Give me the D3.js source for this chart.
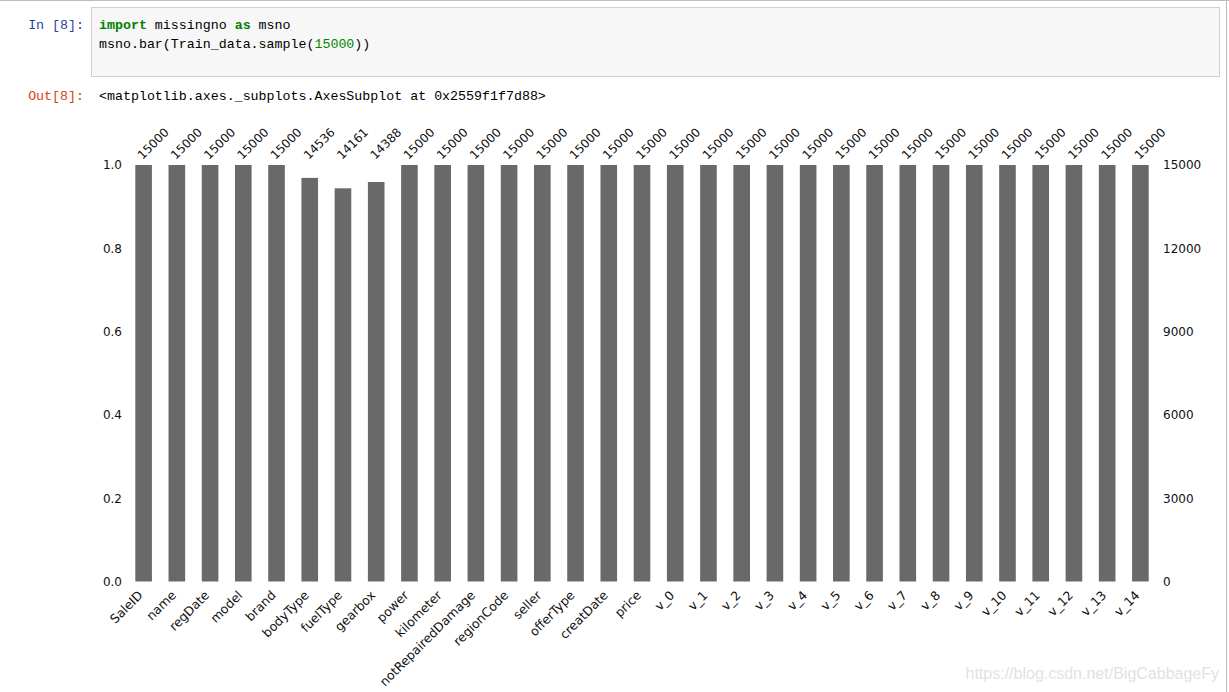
<!DOCTYPE html>
<html>
<head>
<meta charset="utf-8">
<script src="https://cdn.jsdelivr.net/npm/d3@7/dist/d3.min.js"></script>
<style>
  html, body { margin: 0; padding: 0; background: #fff; }
  svg { display: block; }
  .mono { font-family: "Liberation Mono", "DejaVu Sans Mono", monospace; font-size: 13.3px; }
</style>
</head>
<body>
<svg id="page" width="1229" height="692"></svg>
<script>
const columns = ["SaleID","name","regDate","model","brand","bodyType","fuelType","gearbox","power","kilometer","notRepairedDamage","regionCode","seller","offerType","creatDate","price","v_0","v_1","v_2","v_3","v_4","v_5","v_6","v_7","v_8","v_9","v_10","v_11","v_12","v_13","v_14"];
const counts = [15000,15000,15000,15000,15000,14536,14161,14388,15000,15000,15000,15000,15000,15000,15000,15000,15000,15000,15000,15000,15000,15000,15000,15000,15000,15000,15000,15000,15000,15000,15000];
const totalRows = 15000;
const leftTicks = [0, 0.2, 0.4, 0.6, 0.8, 1.0];

const svg = d3.select("#page");

// Notebook chrome
svg.append("rect").attr("x", 0).attr("y", 0).attr("width", 1229).attr("height", 692).attr("fill", "#fff");
svg.append("line").attr("x1", 0).attr("x2", 1229).attr("y1", 0.5).attr("y2", 0.5).attr("stroke", "#bdbdbd");
svg.append("line").attr("x1", 1226.5).attr("x2", 1226.5).attr("y1", 0).attr("y2", 692).attr("stroke", "#bdbdbd");

svg.append("rect").attr("x", 91.5).attr("y", 7.5).attr("width", 1128).attr("height", 69)
  .attr("fill", "#f7f7f7").attr("stroke", "#cfcfcf");

svg.append("text").attr("class", "mono").attr("x", 84).attr("y", 28.5).attr("text-anchor", "end")
  .attr("fill", "#303F9F").text("In [8]:");
const l1 = svg.append("text").attr("class", "mono").attr("x", 99).attr("y", 28.5).attr("xml:space", "preserve").attr("fill", "#000");
l1.append("tspan").attr("fill", "#008000").attr("font-weight", "bold").text("import");
l1.append("tspan").text(" missingno ");
l1.append("tspan").attr("fill", "#008000").attr("font-weight", "bold").text("as");
l1.append("tspan").text(" msno");
const l2 = svg.append("text").attr("class", "mono").attr("x", 99).attr("y", 47.5).attr("fill", "#000");
l2.append("tspan").text("msno.bar(Train_data.sample(");
l2.append("tspan").attr("fill", "#008800").text("15000");
l2.append("tspan").text("))");

svg.append("text").attr("class", "mono").attr("x", 84).attr("y", 100).attr("text-anchor", "end")
  .attr("fill", "#D84315").text("Out[8]:");
svg.append("text").attr("class", "mono").attr("x", 99).attr("y", 100).attr("fill", "#000")
  .text("<matplotlib.axes._subplots.AxesSubplot at 0x2559f1f7d88>");

// Chart
const x = d3.scaleBand().domain(columns).range([127, 1157]).paddingInner(0.5).paddingOuter(0.25);
const y = d3.scaleLinear().domain([0, 1]).range([581.5, 165]);

svg.append("g").selectAll("rect").data(columns).join("rect")
  .attr("x", d => x(d)).attr("width", x.bandwidth())
  .attr("y", (d, i) => y(counts[i] / totalRows))
  .attr("height", (d, i) => y(0) - y(counts[i] / totalRows))
  .attr("fill", "#696969");

function styleAxis(g, size) {
  g.select(".domain").remove();
  g.attr("font-family", "DejaVu Sans, sans-serif").attr("font-size", size);
  g.selectAll(".tick text").attr("fill", "#111");
}

const gl = svg.append("g").attr("transform", "translate(127,0)")
  .call(d3.axisLeft(y).tickValues(leftTicks).tickFormat(d3.format(".1f")).tickSize(0).tickPadding(5));
styleAxis(gl, 12);

const gr = svg.append("g").attr("transform", "translate(1157,0)")
  .call(d3.axisRight(y).tickValues(leftTicks).tickFormat(d => String(Math.round(d * totalRows))).tickSize(0).tickPadding(6));
styleAxis(gr, 12);

// bottom labels
const gb = svg.append("g").attr("transform", `translate(0,${y(0)})`)
  .call(d3.axisBottom(x).tickSize(0).tickPadding(0));
styleAxis(gb, 12.5);
gb.selectAll(".tick text")
  .attr("text-anchor", "end").attr("dy", 0).attr("y", 0)
  .attr("transform", "translate(0,14.5) rotate(-45)");

// top count labels
const gt = svg.append("g").attr("transform", `translate(0,${y(1)})`)
  .call(d3.axisTop(x).tickSize(0).tickPadding(0).tickFormat((d, i) => String(counts[i])));
styleAxis(gt, 12);
gt.selectAll(".tick text")
  .attr("text-anchor", "start").attr("dy", 0).attr("y", 0)
  .attr("transform", "translate(-1,-5) rotate(-45)");

// watermark
svg.append("text").attr("x", 1219).attr("y", 679).attr("text-anchor", "end")
  .attr("font-family", "Liberation Sans, Arial, sans-serif").attr("font-size", "16px")
  .attr("fill", "#e2e2e2").text("https://blog.csdn.net/BigCabbageFy");
</script>
</body>
</html>
